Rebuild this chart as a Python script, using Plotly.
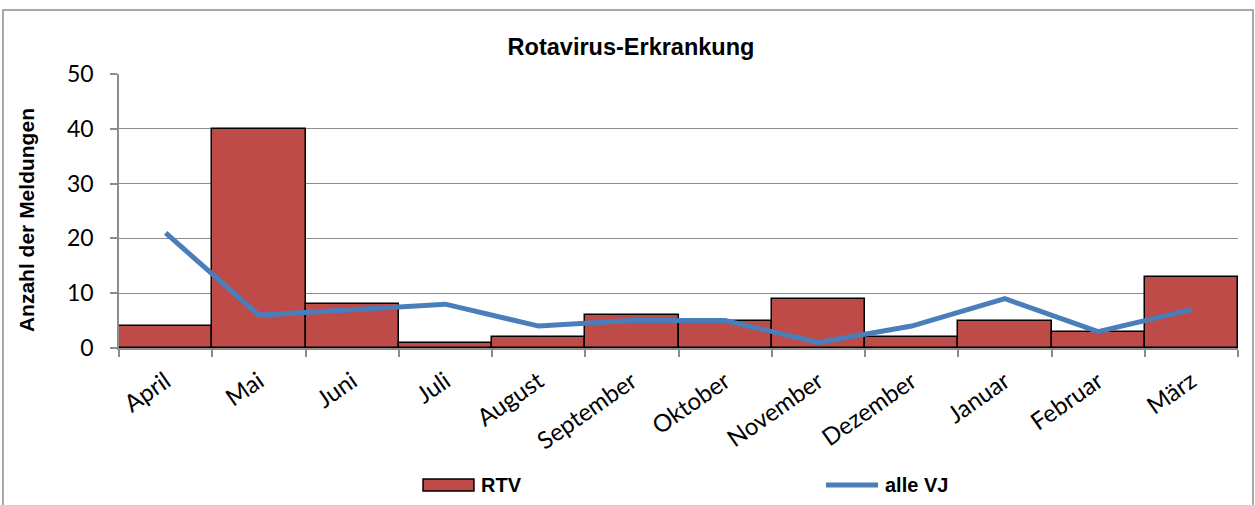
import plotly.graph_objects as go

months = ["April", "Mai", "Juni", "Juli", "August", "September", "Oktober",
          "November", "Dezember", "Januar", "Februar", "März"]
rtv = [4, 40, 8, 1, 2, 6, 5, 9, 2, 5, 3, 13]
alle_vj = [21, 6, 7, 8, 4, 5, 5, 1, 4, 9, 3, 7]
y_ticks = [0, 10, 20, 30, 40, 50]

BAR_COLOR = "#BE4B48"
LINE_COLOR = "#4A7EBB"
GREY = "#8C8C8C"

fig = go.Figure()
fig.add_trace(go.Bar(
    x=months, y=rtv, name="RTV",
    marker=dict(color=BAR_COLOR, line=dict(color="#000000", width=1.5)),
    showlegend=False,
))
fig.add_trace(go.Scatter(
    x=months, y=alle_vj, name="alle VJ", mode="lines",
    line=dict(color=LINE_COLOR, width=5),
    showlegend=False,
))

# manual legend (Excel-style wide keys)
shapes = [
    dict(type="rect", xref="paper", yref="paper",
         x0=-0.1037, x1=1.0134, y0=-0.60, y1=1.2336,
         line=dict(color=GREY, width=1.5), layer="below"),
    dict(type="rect", xref="paper", yref="paper",
         x0=0.2717, x1=0.3172, y0=-0.522, y1=-0.478,
         fillcolor=BAR_COLOR, line=dict(color="#000000", width=1.5)),
    dict(type="line", xref="paper", yref="paper",
         x0=0.6318, x1=0.6783, y0=-0.500, y1=-0.500,
         line=dict(color=LINE_COLOR, width=5)),
]
annotations = [
    dict(text="<b>RTV</b>", xref="paper", yref="paper", x=0.3217, y=-0.500,
         xanchor="left", yanchor="middle", showarrow=False,
         font=dict(family="Arial", size=20, color="black")),
    dict(text="<b>alle VJ</b>", xref="paper", yref="paper", x=0.6827, y=-0.500,
         xanchor="left", yanchor="middle", showarrow=False,
         font=dict(family="Arial", size=20, color="black")),
    dict(text="<b>Anzahl der Meldungen</b>", xref="paper", yref="paper",
         x=-0.0831, y=0.467, xanchor="center", yanchor="middle",
         textangle=-90, showarrow=False,
         font=dict(family="Arial", size=21, color="black")),
]

fig.update_layout(
    width=1255, height=505,
    paper_bgcolor="white", plot_bgcolor="white",
    margin=dict(l=119, r=17, t=74, b=157),
    bargap=0,
    title=dict(text="<b>Rotavirus-Erkrankung</b>", x=0.5028, xanchor="center",
               xref="container", yref="container",
               y=0.907, yanchor="middle",
               font=dict(family="Arial", size=23.5, color="black")),
    font=dict(family="Lato", color="black"),
    showlegend=False,
    shapes=shapes,
    annotations=annotations,
)
fig.update_xaxes(
    type="category", range=[-0.5, 11.5],
    tickangle=-35, tickfont=dict(family="Lato", size=24, color="black"),
    ticks="outside", tickson="boundaries", ticklen=7, tickcolor=GREY, tickwidth=1.5,
    ticklabelstandoff=8,
    showline=True, linecolor=GREY, linewidth=2,
    showgrid=False,
)
fig.update_yaxes(
    range=[0, 50], tickvals=y_ticks,
    tickfont=dict(family="Lato", size=23, color="black"),
    ticks="outside", ticklen=7, tickcolor=GREY, tickwidth=1.5,
    ticklabelstandoff=12,
    showline=True, linecolor=GREY, linewidth=1.5,
    showgrid=True, gridcolor=GREY, gridwidth=1.3,
    zeroline=False,
)

fig.write_html("out.html", config={"displayModeBar": False},
               post_script="document.body.style.margin='0px';")
